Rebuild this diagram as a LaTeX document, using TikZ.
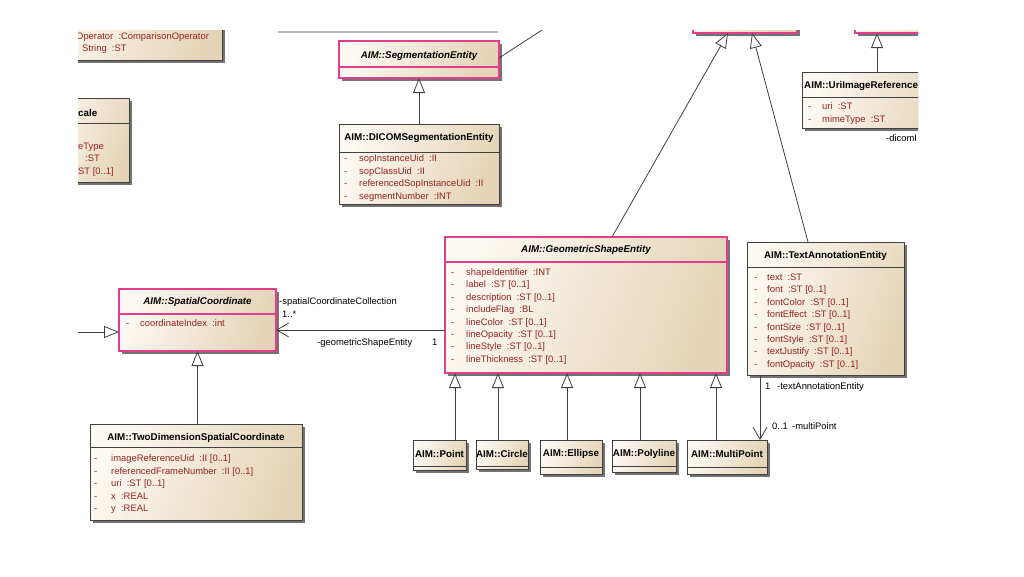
\documentclass[tikz,border=0pt]{standalone}
\usepackage{fontspec}
\setmainfont{Liberation Sans}
\usetikzlibrary{arrows.meta,shadows,calc}
\definecolor{umlpink}{RGB}{226,62,140}
\definecolor{umlline}{RGB}{64,64,64}
\definecolor{attrred}{RGB}{150,34,34}
\definecolor{beigeL}{RGB}{252,249,242}
\definecolor{beigeD}{RGB}{229,212,184}
\tikzset{
  classbox/.style={draw=umlline,line width=0.8pt,left color=beigeL,right color=beigeD,shading angle=70,
    drop shadow={shadow xshift=2.5pt,shadow yshift=-2.5pt,fill=black!55,opacity=1},inner sep=0pt,outer sep=0pt},
  pinkbox/.style={classbox,draw=umlpink,line width=1.8pt},
  sepline/.style={draw=umlline,line width=0.8pt},
  pinksep/.style={draw=umlpink,line width=1.8pt},
  ctitle/.style={inner sep=0pt,font=\fontsize{9.8}{11}\selectfont\bfseries},
  ititle/.style={inner sep=0pt,font=\fontsize{9.8}{11}\selectfont\bfseries\itshape},
  attr/.style={anchor=west,inner sep=0pt,text height=7pt,text depth=2pt,text=attrred,font=\fontsize{9.4}{11}\selectfont},
  lbl/.style={anchor=west,inner sep=0pt,text height=7pt,text depth=2pt,font=\fontsize{9.4}{11}\selectfont},
  gen/.style={draw=umlline,line width=0.8pt,-{Triangle[length=15pt,width=12pt,fill=white]}},
  assoc/.style={draw=umlline,line width=0.8pt,-{Straight Barb[length=12pt,width=14pt]}},
  link/.style={draw=umlline,line width=0.8pt}
}
\begin{document}
\begin{tikzpicture}[x=1pt,y=-1pt]
  \useasboundingbox (0,0) rectangle (1024,576);
  \clip (78,30) rectangle (918,576);
  % class boxes
  \node[classbox,minimum width=182pt,minimum height=60pt] (cmpOp) at (131,30) {};
  \node[classbox,minimum width=89pt,minimum height=84pt] (scale) at (84.5,140) {};
  \node[pinkbox,minimum width=160pt,minimum height=37pt] (seg) at (419,59.5) {};
  \node[classbox,minimum width=160pt,minimum height=80pt] (dicom) at (419,164) {};
  \node[pinkbox,minimum width=104pt,minimum height=66pt] (topA) at (745,0) {};
  \node[pinkbox,minimum width=130pt,minimum height=66pt] (topB) at (920,0) {};
  \node[classbox,minimum width=158pt,minimum height=56pt] (uri) at (881,100) {};
  \node[pinkbox,minimum width=157pt,minimum height=62pt] (spatial) at (197.5,320) {};
  \node[classbox,minimum width=212pt,minimum height=96pt] (twodim) at (196,472) {};
  \node[pinkbox,minimum width=282pt,minimum height=136pt] (geo) at (586,305) {};
  \node[classbox,minimum width=157pt,minimum height=133pt] (txt) at (825.5,308.5) {};
  \node[classbox,minimum width=53pt,minimum height=30pt] (shPoint) at (439.5,455) {};
  \node[classbox,minimum width=52pt,minimum height=29pt] (shCircle) at (502,454.5) {};
  \node[classbox,minimum width=62pt,minimum height=34pt] (shEllipse) at (571,457) {};
  \node[classbox,minimum width=64pt,minimum height=32pt] (shPolyline) at (644,456) {};
  \node[classbox,minimum width=80pt,minimum height=34pt] (shMulti) at (727,457) {};
  \draw[gray!55,line width=2pt] (278,32) -- (498,32);
  % compartments
  \foreach \n/\d in {scale/25,dicom/28,uri/25,twodim/23,txt/25,shPoint/26,shCircle/26,shEllipse/27,shPolyline/26,shMulti/27}
    \draw[sepline] ($(\n.north west)+(0,\d)$) -- ($(\n.north east)+(0,\d)$);
  \foreach \n/\d in {seg/26,spatial/25,geo/25}
    \draw[pinksep] ($(\n.north west)+(0,\d)$) -- ($(\n.north east)+(0,\d)$);
  % titles
  \node[ctitle,anchor=west] (scaleT) at (78,113) {cale};
  \node[ititle] (segT) at (419,56) {AIM::SegmentationEntity};
  \node[ctitle] (dicomT) at (419,138) {AIM::DICOMSegmentationEntity};
  \node[ctitle,anchor=west] (uriT) at (804,86) {AIM::UriImageReference};
  \node[ititle] (spatialT) at (197.5,302) {AIM::SpatialCoordinate};
  \node[ctitle] (twodimT) at (196,438) {AIM::TwoDimensionSpatialCoordinate};
  \node[ititle] (geoT) at (586,250) {AIM::GeometricShapeEntity};
  \node[ctitle] (txtT) at (825.5,256) {AIM::TextAnnotationEntity};
  \foreach \n/\a in {shPoint/Point,shCircle/Circle,shEllipse/Ellipse,shPolyline/Polyline,shMulti/MultiPoint}
    \node[ctitle] (\n-t) at ($(\n.north)+(0,14)$) {AIM::\a};
  % attributes
  \node[attr] (cmpOpA1) at (76,37) {Operator~ :ComparisonOperator};
  \node[attr] (cmpOpA2) at (82,49) {String~ :ST};
  \node[attr] (scaleA1) at (78,147) {eType};
  \node[attr] (scaleA2) at (85,159) {:ST};
  \node[attr] (scaleA3) at (78,172) {ST [0..1]};
  \foreach \a [count=\i] in {sopInstanceUid~ :II,sopClassUid~ :II,referencedSopInstanceUid~ :II,segmentNumber~ :INT} {
    \node[attr] (dicomD\i) at (344,146.5+12.5*\i) {-};
    \node[attr] (dicomA\i) at (359,146.5+12.5*\i) {\a};
  }
  \foreach \a [count=\i] in {uri~ :ST,mimeType~ :ST} {
    \node[attr] (uriD\i) at (808,94.5+12.5*\i) {-};
    \node[attr] (uriA\i) at (822,94.5+12.5*\i) {\a};
  }
  \node[attr] (spatialD1) at (126,324) {-};
  \node[attr] (spatialA1) at (140,324) {coordinateIndex~ :int};
  \foreach \a [count=\i] in {imageReferenceUid~ :II [0..1],referencedFrameNumber~ :II [0..1],uri~ :ST [0..1],x~ :REAL,y~ :REAL} {
    \node[attr] (twodimD\i) at (94,446.5+12.5*\i) {-};
    \node[attr] (twodimA\i) at (111,446.5+12.5*\i) {\a};
  }
  \foreach \a [count=\i] in {shapeIdentifier~ :INT,label~ :ST [0..1],description~ :ST [0..1],includeFlag~ :BL,
      lineColor~ :ST [0..1],lineOpacity~ :ST [0..1],lineStyle~ :ST [0..1],lineThickness~ :ST [0..1]} {
    \node[attr] (geoD\i) at (451,260.6+12.4*\i) {-};
    \node[attr] (geoA\i) at (466,260.6+12.4*\i) {\a};
  }
  \foreach \a [count=\i] in {text~ :ST,font~ :ST [0..1],fontColor~ :ST [0..1],fontEffect~ :ST [0..1],
      fontSize~ :ST [0..1],fontStyle~ :ST [0..1],textJustify~ :ST [0..1],fontOpacity~ :ST [0..1]} {
    \node[attr] (txtD\i) at (754,265.6+12.4*\i) {-};
    \node[attr] (txtA\i) at (767,265.6+12.4*\i) {\a};
  }
  % connectors
  \coordinate (leftEnd) at (60,332);
  \coordinate (segEnd) at (562,17);
  \draw[gen] (dicom.north) -- (seg.south);
  \draw[gen] (twodim.north -| spatial.south) -- (spatial.south);
  \draw[gen] (leftEnd) -- (leftEnd -| spatial.west);
  \draw[link] ($(seg.north east)+(0,17)$) -- (segEnd);
  \draw[assoc] ($(geo.north west)+(0,93)$) -- ($(spatial.north east)+(0,41)$);
  \draw[gen] ($(geo.north west)+(167,0)$) -- ($(topA.south west)+(35,0)$);
  \draw[gen] ($(txt.north west)+(61,0)$) -- ($(topA.south west)+(59,0)$);
  \draw[gen] ($(uri.north west)+(75,0)$) -- ($(topB.south west)+(22,0)$);
  \draw[assoc] ($(txt.south west)+(13,0)$) -- ($(shMulti.north west)+(73,0)$);
  \foreach \n/\d in {shPoint/42,shCircle/22,shEllipse/27,shPolyline/28,shMulti/29} {
    \path ($(\n.north west)+(\d,0)$) coordinate (\n-g);
    \draw[gen] (\n-g) -- (\n-g |- geo.south);
  }
  % role labels
  \node[lbl] (lSpC) at (279,302) {-spatialCoordinateCollection};
  \node[lbl] (lSpM) at (282,315) {1..*};
  \node[lbl] (lGeo) at (317,343) {-geometricShapeEntity};
  \node[lbl] (lGeoM) at (432,343) {1};
  \node[lbl] (lTxtM) at (765,387) {1};
  \node[lbl] (lTxt) at (777,387) {-textAnnotationEntity};
  \node[lbl] (lMpM) at (772,427) {0..1};
  \node[lbl] (lMp) at (792,427) {-multiPoint};
  \node[lbl] (lDicom) at (886,139) {-dicomI};
\end{tikzpicture}
\end{document}
